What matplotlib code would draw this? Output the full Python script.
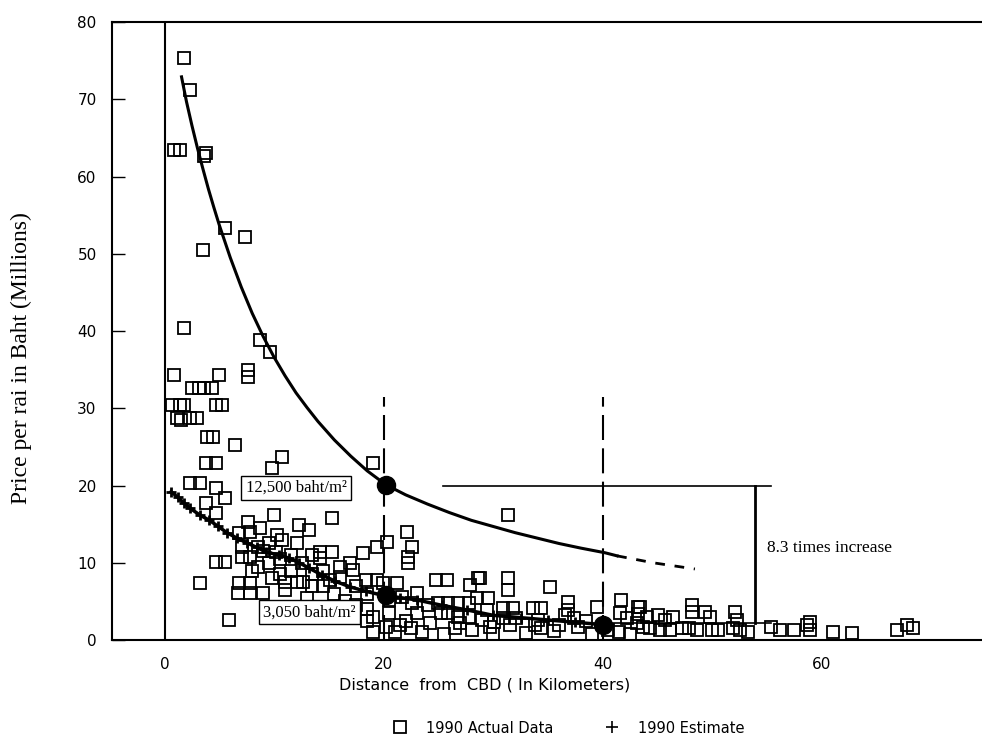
import matplotlib.pyplot as plt
from matplotlib.lines import Line2D

# 1990 actual land price observations (distance km, price million baht per rai)
actual_x = [1.8, 2.3, 0.9, 1.4, 3.8, 3.6, 5.5, 7.3, 3.5, 1.8, 8.7, 9.6, 7.6, 7.6, 0.9, 5.0,
            2.5, 3.1, 3.6, 4.3, 0.7, 1.4, 1.8, 4.7, 5.2, 1.1, 1.5, 2.3, 3.0, 3.9, 4.4, 6.4,
            3.8, 4.7, 10.7, 9.8, 19.0, 2.3, 3.2, 4.7, 5.5, 3.8, 4.7, 10.0, 15.3, 12.3, 13.2,
            7.6, 8.7, 10.3, 10.7, 6.8, 7.8, 12.1, 14.2, 15.3, 14.2, 7.1, 7.1, 7.8, 10.2, 4.7,
            5.5, 8.5, 3.2, 6.8, 7.8, 12.1, 12.6, 6.7, 7.8, 9.0, 16.9, 17.2, 18.1, 19.4, 20.3,
            22.1, 22.6, 22.2, 22.2, 15.1, 16.0, 18.4, 19.4, 19.9, 21.2, 24.8, 25.8, 27.9,
            28.6, 25.0, 25.9, 26.8, 25.2, 25.9, 26.8, 27.8, 27.8, 28.1, 24.2, 5.9, 20.5,
            20.5, 20.2, 21.7, 22.6, 23.0, 23.0, 31.3, 31.3, 31.3, 35.2, 28.8, 36.8, 36.8,
            39.5, 41.7, 41.6, 43.2, 43.2, 31.8, 32.1, 30.9, 30.9, 33.6, 34.4, 34.1, 29.4,
            29.0, 36.5, 37.4, 37.7, 33.8, 34.4, 31.5, 30.1, 29.7, 42.2, 43.1, 43.7, 40.5,
            48.1, 48.1, 49.3, 49.8, 52.1, 52.2, 43.4, 44.0, 45.0, 46.4, 45.7, 44.3, 45.2,
            46.1, 47.2, 47.9, 48.6, 50.0, 50.5, 51.9, 52.5, 53.2, 55.3, 56.2, 57.4, 58.6,
            58.9, 58.9, 61.0, 62.7, 66.8, 67.8, 68.3,
            13.5, 14.5, 15.5, 13.0, 11.0, 10.5, 9.5, 9.8, 11.5, 16.5, 17.5, 18.5, 19.0,
            21.5, 22.5, 18.5, 19.0, 21.0, 22.0, 23.5, 24.0, 26.5, 27.0, 25.5, 28.5, 29.5,
            30.0, 33.0, 35.5, 36.0, 38.5, 39.0, 41.5, 42.5, 8.0, 9.0, 10.5, 11.5, 12.5,
            13.5, 9.5, 8.5, 11.0, 13.5, 14.5, 16.0, 17.5, 18.5]
actual_y = [75.3, 71.2, 63.4, 63.4, 63.0, 62.6, 53.3, 52.2, 50.5, 40.4, 38.8, 37.3, 35.0, 34.1, 34.3, 34.3,
            32.6, 32.6, 32.6, 32.6, 30.4, 30.4, 30.4, 30.4, 30.4, 28.7, 28.5, 28.7, 28.7, 26.3, 26.3, 25.2,
            22.9, 22.9, 23.7, 22.3, 22.9, 20.3, 20.3, 19.7, 18.4, 17.7, 16.4, 16.2, 15.8, 14.9, 14.2,
            15.3, 14.5, 13.6, 12.9, 13.8, 14.0, 12.6, 11.4, 11.4, 10.6, 12.0, 10.7, 10.7, 11.4, 10.1,
            10.1, 9.5, 7.4, 7.4, 7.4, 7.5, 7.5, 6.1, 6.1, 6.1, 10.0, 9.1, 11.3, 12.0, 12.7,
            14.0, 12.0, 10.7, 10.0, 7.8, 8.2, 7.8, 7.8, 7.4, 7.4, 7.8, 7.8, 7.1,
            8.0, 4.8, 4.8, 4.8, 3.5, 3.5, 3.0, 4.8, 3.0, 1.3, 2.2, 2.6, 5.2,
            3.5, 1.7, 5.6, 4.8, 3.5, 6.1, 16.2, 8.0, 6.5, 6.9, 8.0, 4.9, 3.9,
            4.3, 5.2, 3.5, 4.3, 3.4, 4.1, 2.8, 4.1, 2.8, 4.1, 4.1, 2.6, 3.9,
            2.6, 3.2, 2.8, 1.7, 1.9, 1.6, 1.9, 2.3, 1.7, 2.8, 2.2, 1.7, 1.3,
            4.5, 3.6, 3.6, 3.0, 3.6, 2.6, 4.3, 3.0, 3.2, 3.0, 2.6, 1.5, 1.3,
            1.3, 1.5, 1.5, 1.3, 1.3, 1.3, 1.5, 1.3, 1.0, 1.7, 1.3, 1.3, 1.9,
            2.3, 1.3, 1.0, 0.9, 1.3, 1.9, 1.5,
            8.5, 7.0, 6.0, 5.5, 6.5, 8.5, 10.0, 8.0, 9.0, 5.0, 4.5, 4.0, 3.0,
            2.0, 1.5, 2.5, 1.0, 1.0, 2.5, 1.0, 4.5, 1.5, 2.2, 0.8, 5.5, 5.5,
            0.8, 0.9, 1.2, 2.0, 2.5, 0.8, 1.0, 0.8, 9.0, 11.5, 10.5, 11.0, 10.0,
            11.0, 12.5, 12.0, 7.5, 7.0, 9.0, 9.5, 7.0, 6.0]

# 1990 estimate (lower + line)
est_x = [0.6, 1.2, 1.8, 2.3, 3.2, 4.1, 4.9, 5.7, 6.6, 7.5, 8.4, 9.3, 10.4, 11.4, 12.3, 13.2,
         14.4, 15.6, 16.9, 18.4, 19.9, 21.5, 23.0, 25.3, 27.6, 30.0, 32.5, 35.0, 37.5, 40.0]
est_y = [19.2, 18.5, 17.7, 17.1, 16.2, 15.5, 14.7, 13.9, 13.2, 12.6, 12.0, 11.4, 11.0, 10.6, 10.0, 9.3,
         8.4, 7.6, 6.9, 6.3, 5.8, 5.5, 5.2, 4.5, 3.9, 3.2, 2.9, 2.6, 2.3, 2.0]

# upper fitted curve (solid part) and its dashed extension
fit_x = [1.55, 2.0, 2.5, 3.0, 3.5, 4.0, 4.5, 5.0, 6.0, 7.0, 8.0, 9.0, 10.0, 11.0, 12.0, 13.0,
         14.0, 15.5, 17.0, 18.5, 20.2, 22.0, 24.0, 26.0, 28.0, 30.0, 32.0, 34.0, 36.0, 38.0,
         40.2, 41.3]
fit_y = [72.9, 69.7, 66.6, 63.7, 61.0, 58.4, 56.0, 53.7, 49.5, 45.7, 42.3, 39.3, 36.6, 34.2, 32.0, 30.1,
         28.3, 25.9, 23.8, 21.9, 20.1, 18.8, 17.6, 16.5, 15.5, 14.7, 13.9, 13.2, 12.5, 11.9,
         11.3, 10.9]
ext_x = [41.3, 44.6, 48.4]
ext_y = [10.9, 10.0, 9.2]

# highlighted points
dot_x = [20.2, 20.2, 40.0]
dot_y = [20.1, 5.8, 1.9]

x_ticks = [0, 20, 40, 60]
y_ticks = [0, 10, 20, 30, 40, 50, 60, 70, 80]

serif = ["Liberation Serif", "DejaVu Serif"]

fig = plt.figure(figsize=(9.82, 7.46), dpi=100)
ax = fig.add_axes([0.114, 0.142, 0.886, 0.8285])

ax.plot(actual_x, actual_y, linestyle="none", marker="s", markersize=8,
        markerfacecolor="none", markeredgecolor="black", markeredgewidth=1.3)
ax.plot(est_x, est_y, color="black", linewidth=2.5, marker="+", markersize=7,
        markeredgewidth=2)
ax.plot(fit_x, fit_y, color="black", linewidth=2.2)
ax.plot(ext_x, ext_y, color="black", linewidth=2, linestyle=(0, (3.5, 3.5)))
ax.plot(dot_x, dot_y, linestyle="none", marker="o", markersize=13, color="black")

# reference lines
ax.axvline(0, color="black", linewidth=1.5)
ax.plot([20, 20], [0, 31.5], color="black", linewidth=1.5, linestyle=(0, (12, 4)))
ax.plot([40, 40], [0, 31.5], color="black", linewidth=1.5, linestyle=(0, (12, 4)))
ax.plot([25.4, 55.3], [20, 20], color="black", linewidth=1.2)
ax.plot([40, 55.3], [2.2, 2.2], color="black", linewidth=1.2)
ax.plot([53.9, 53.9], [20, 2.2], color="black", linewidth=2)

ax.text(55.0, 11.9, "8.3 times increase", family=serif, fontsize=12.5, va="center")
box = dict(boxstyle="square,pad=0.25", facecolor="white", edgecolor="black", linewidth=1)
ax.text(12.0, 19.7, "12,500 baht/m²", family=serif, fontsize=12, ha="center", va="center", bbox=box)
ax.text(13.2, 3.6, "3,050 baht/m²", family=serif, fontsize=12, ha="center", va="center", bbox=box)

ax.set_xlim(-4.8, 74.6)
ax.set_ylim(0, 80)
ax.set_xticks(x_ticks)
ax.set_yticks(y_ticks)
ax.tick_params(axis="x", length=0, pad=12, labelsize=11)
ax.tick_params(axis="y", direction="in", length=9, width=1, pad=11, labelsize=11)
ax.spines["right"].set_visible(False)
for side in ["left", "top", "bottom"]:
    ax.spines[side].set_linewidth(1.5)

fig.text(0.022, 0.52, "Price per rai in Baht (Millions)", family=serif, fontsize=17,
         rotation=90, ha="center", va="center")
fig.text(0.494, 0.082, "Distance  from  CBD ( In Kilometers)", fontsize=11.5, ha="center", va="center")

handles = [
    Line2D([], [], linestyle="none", marker="s", markersize=8, markerfacecolor="none",
           markeredgecolor="black", markeredgewidth=1.3),
    Line2D([], [], linestyle="none", marker="+", markersize=9, markeredgecolor="black",
           markeredgewidth=1.2),
]
fig.legend(handles, ["1990 Actual Data", "1990 Estimate"], loc="center",
           bbox_to_anchor=(0.575, 0.024), ncol=2, frameon=False, fontsize=10.5,
           columnspacing=3, handletextpad=0.8)

fig.savefig("out.png", dpi=100)
